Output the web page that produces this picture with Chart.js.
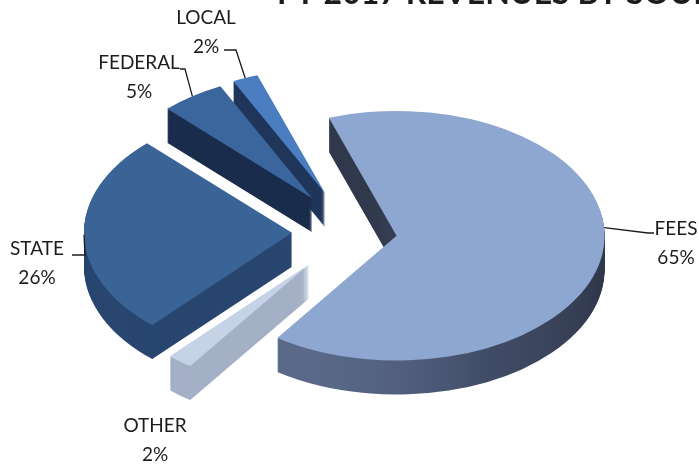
<!DOCTYPE html>
<html>
<head>
<meta charset="utf-8">
<script src="https://cdn.jsdelivr.net/npm/chart.js@4.4.0/dist/chart.umd.min.js"></script>
<style>
  html, body { margin: 0; padding: 0; background: #fff; }
  #wrap { width: 699px; height: 466px; }
</style>
</head>
<body>
<div id="wrap"><canvas id="revChart"></canvas></div>
<script>
// revenue shares, clockwise from the top
var sources = ['FEES', 'OTHER', 'STATE', 'FEDERAL', 'LOCAL'];
var shares = [65, 2, 26, 5, 2];
var chartTitle = 'FY 2017 REVENUES BY SOURCE';

var topColors = ['#8ea7d0', '#c6d2e6', '#3b6496', '#3a659d', '#4b7ec0'];
var sideColors = [null, '#a4b0c6', '#28466f', '#1b2d4c', '#1f3559'];
var explode = [45, 68, 60, 69, 70];
var tilt = 0.6;
var depth = 34;

// where each label sits, where its leader meets the slice (0..1 along the rim)
// and how the leader bends
var labelBoxes = [
  { x: 676, y: 229, at: 0.45, line: [[648, 233], [654, 233]] },
  { x: 155, y: 426, at: 0.5, line: null },
  { x: 37, y: 249, at: 0.5, line: [[85, 255], [72, 255]] },
  { x: 139, y: 63, at: 0.5, line: [[185, 69], [180, 69]] },
  { x: 206, y: 18, at: 0.5, line: [[236, 50], [224, 50]] }
];

function placeSlice(ctx, arc, i, dy) {
  var mid = (arc.startAngle + arc.endAngle) / 2;
  ctx.translate(0, dy);
  ctx.translate(arc.x, arc.y);
  ctx.scale(1, tilt);
  ctx.translate(-arc.x, -arc.y);
  ctx.translate(Math.cos(mid) * explode[i], Math.sin(mid) * explode[i]);
}

function paintSlice(ctx, arc, fill) {
  var orig = arc.options;
  arc.options = Object.assign({}, orig, { backgroundColor: fill, borderWidth: 0 });
  arc.draw(ctx);
  arc.options = orig;
}

var pie3d = {
  id: 'pie3d',
  beforeDatasetsDraw: function(chart) {
    var ctx = chart.ctx;
    var arcs = chart.getDatasetMeta(0).data;
    var fees = arcs[0];
    // lit near the front left, darker toward the notch and the right rim
    var feesSide = ctx.createLinearGradient(fees.x - 90, fees.y + 217, fees.x + 60, fees.y - 33);
    feesSide.addColorStop(0, '#617192');
    feesSide.addColorStop(0.4, '#414c67');
    feesSide.addColorStop(1, '#30384b');
    var sides = sideColors.slice();
    sides[0] = feesSide;

    // extrude each slice downwards, then lay the top faces over it
    for (var d = depth; d > 0; d--) {
      for (var i = 0; i < arcs.length; i++) {
        ctx.save();
        placeSlice(ctx, arcs[i], i, d);
        paintSlice(ctx, arcs[i], sides[i]);
        ctx.restore();
      }
    }
    for (var j = 0; j < arcs.length; j++) {
      ctx.save();
      placeSlice(ctx, arcs[j], j, 0);
      paintSlice(ctx, arcs[j], topColors[j]);
      ctx.restore();
    }
    return false;
  },
  afterDraw: function(chart) {
    var ctx = chart.ctx;
    var arcs = chart.getDatasetMeta(0).data;
    var total = shares.reduce(function(a, b) { return a + b; }, 0);

    ctx.save();
    ctx.fillStyle = '#1c1c1c';
    ctx.font = 'bold 32px Lato';
    ctx.textAlign = 'left';
    ctx.textBaseline = 'alphabetic';
    ctx.fillText(chartTitle, 277, 4);

    ctx.font = '19px Lato';
    ctx.textAlign = 'center';
    ctx.textBaseline = 'middle';
    ctx.strokeStyle = '#1c1c1c';
    ctx.lineWidth = 1.3;
    for (var i = 0; i < arcs.length; i++) {
      var a = arcs[i], box = labelBoxes[i];
      var mid = (a.startAngle + a.endAngle) / 2;
      var ang = a.startAngle + (a.endAngle - a.startAngle) * box.at;
      var ex = a.x + Math.cos(mid) * explode[i];
      var ey = a.y + Math.sin(mid) * explode[i] * tilt;
      var ax = ex + Math.cos(ang) * a.outerRadius;
      var ay = ey + Math.sin(ang) * a.outerRadius * tilt;
      if (box.line) {
        ctx.beginPath();
        ctx.moveTo(ax, ay);
        ctx.lineTo(box.line[0][0], box.line[0][1]);
        ctx.lineTo(box.line[1][0], box.line[1][1]);
        ctx.stroke();
      }
      var pct = Math.round(shares[i] / total * 100) + '%';
      ctx.fillText(sources[i], box.x, box.y);
      ctx.fillText(pct, box.x, box.y + 29);
    }
    ctx.restore();
  }
};

new Chart(document.getElementById('revChart'), {
  type: 'pie',
  data: {
    labels: sources,
    datasets: [{
      data: shares,
      backgroundColor: topColors,
      borderWidth: 0,
      clip: false
    }]
  },
  options: {
    responsive: true,
    maintainAspectRatio: false,
    animation: false,
    rotation: -19,
    radius: 208,
    layout: { padding: { left: 5, right: 0, top: 0, bottom: 2 } },
    events: [],
    plugins: {
      legend: { display: false },
      tooltip: { enabled: false }
    }
  },
  plugins: [pie3d]
});
</script>
</body>
</html>
